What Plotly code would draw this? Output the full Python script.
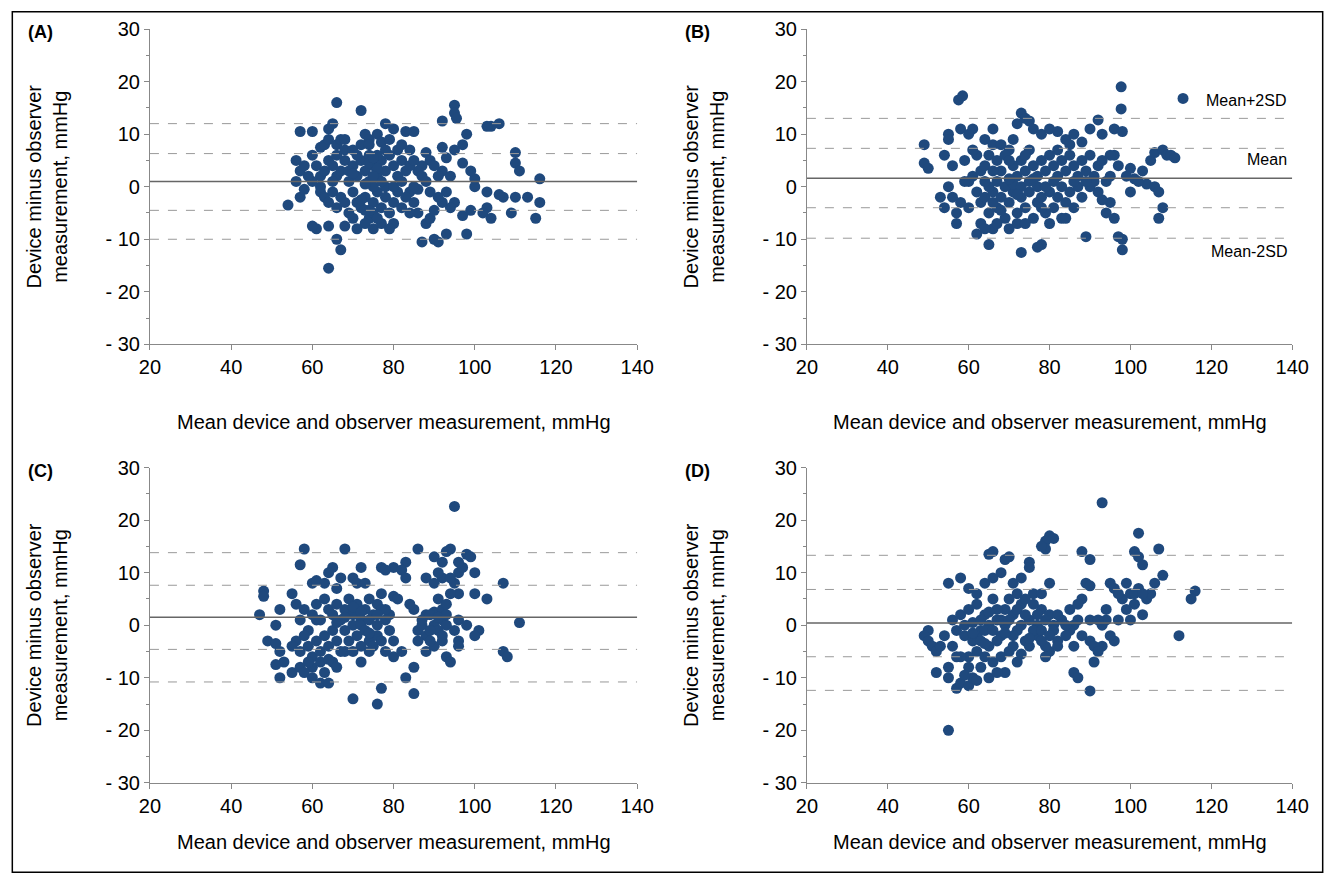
import plotly.graph_objects as go

# (mean, difference) pairs
pts_a = [
    (66, 16), (72, 14.5), (95, 15.5), (95, 14), (95.5, 13), (106, 12), (104, 11.5), (103, 11.5),
    (60, 10.5), (57, 10.5), (64, 11), (65, 12), (78, 12), (80, 11), (85, 10.5), (83, 10.5),
    (92, 12.5), (98, 10), (97, 8), (110, 6.5), (110, 4.5), (111, 3), (113, -2), (116, 1.5),
    (116, -3), (115, -6), (109, -5), (104, -6), (103, -4), (103, -1), (107, -2), (106, -1.5),
    (110, -2), (54, -3.5), (57, -2), (56, 1), (58, -0.5), (57, 3), (56, 5), (58, 4), (64, -7.5),
    (61, -8), (60, -7.5), (66, -10), (67, -12), (68, -7.5), (64, -15.5), (80, -7), (87, -10.5),
    (91, -10.5), (90, -10), (93, -9), (98, -9), (97, -5.5), (99, -4.5), (102, -5), (95, -3),
    (92, -3), (85, -3), (86, -5), (88, -7), (89, -6), (90, -4.5), (84, -1), (86, -0.5), (88, 1),
    (92, 3), (94, 2), (93, -1), (100, 0), (100, 1.5), (99, 3), (97, 4.5), (95, 7), (92, 7.5),
    (88, 6.5), (89, 5), (90, 4), (91, 2), (93, 5.5), (87, 4), (86, 3), (60, 6), (62, 7.5),
    (63, 8), (64, 9), (66, 8), (67, 9), (68, 7), (70, 7), (72, 8), (73, 10), (74, 9), (76, 10),
    (77, 8.5), (79, 9), (81, 7), (82, 8), (84, 7), (61, 4), (62, 2), (63, 3), (64, 5), (65, 4),
    (66, 2), (67, 3), (68, 5), (69, 1), (70, 4), (71, 2), (72, 5), (73, 3), (74, 6), (75, 4),
    (76, 2), (77, 5), (78, 3), (79, 6), (80, 4), (81, 2), (82, 5), (83, 3), (84, 4), (85, 5),
    (62, -1), (63, -2), (64, -3), (65, -1), (66, -4), (67, -2), (68, -3), (69, -5), (70, -1),
    (71, -3), (72, -4), (73, -2), (74, -6), (75, -3), (76, -1), (77, -4), (78, -2), (79, -5),
    (80, -3), (81, -1), (82, -4), (83, -2), (84, -5), (85, 0), (74, 1), (75, 0), (76, 6),
    (78, 0), (73, -7), (75, -8), (77, -7), (79, -8), (70, -6), (71, -8), (65, 1), (62, 0),
    (60, 1), (59, 2), (73, 0.5), (80, 0), (82, 1), (87, 2), (89, -1), (91, -2), (94, -4),
    (74, 4.5), (75, 5.5), (76, 3.5), (77, 1), (75, -5), (76, -6), (74, -4.5), (72, -2.5),
    (69, 3), (70, 2.5), (71, 6), (66, 6), (68, 9), (78, 7), (74, 8), (75, 2), (73, -4.5),
]
pts_b = [
    (57.5, 16.5), (58.5, 17.3), (97.7, 19), (97.7, 14.8), (113, 16.8), (92, 12.7), (49, 8),
    (49, 4.5), (50, 3.5), (55, 10), (55, 9), (54, 6), (56, 4), (58, 11), (61, 11), (60, 10),
    (62, 6), (64, 9), (66, 11), (66, 8), (70, 7), (71, 9), (72, 12), (73, 14), (74, 13),
    (75, 12.5), (76, 11), (78, 10), (80, 11), (82, 10.5), (84, 9), (86, 10), (88, 8.5), (90, 11),
    (93, 10), (96, 11), (98, 10.5), (96, 6), (97, 4), (100, 3.5), (101, 1.5), (104, 0.5),
    (106, 0), (107, -1), (108, -4), (107, -6), (105, 5), (106, 6.5), (108, 7), (109, 6),
    (110, 6), (111, 5.5), (100, -1), (95, -3), (93, -2.5), (97, -9.5), (98, -12), (98, -10),
    (89, -9.5), (78, -11), (77, -11.5), (73, -12.5), (65, -11), (66, -8), (62, -9), (57, -7),
    (57, -5), (58, -3), (60, -4), (54, -4), (53, -2), (55, 0), (60, 1), (61, 2), (63, 3),
    (59, 5), (64, 4), (65, 6), (67, 5), (68, 3), (69, 6), (71, 4), (72, 2), (73, 5), (74, 3),
    (75, 7), (76, 4), (77, 2), (78, 5), (79, 3), (80, 6), (81, 4), (82, 2), (83, 5), (84, 3),
    (85, 6), (86, 4), (87, 2), (88, 5), (89, 3), (90, 6), (91, 2), (92, 4), (94, 1), (95, 2),
    (62, -1), (63, -3), (64, -2), (65, -5), (66, -1), (67, -4), (68, -2), (69, -6), (70, -3),
    (71, -1), (72, -5), (73, -2), (74, -4), (75, -1), (76, -6), (77, -3), (78, -2), (79, -5),
    (80, -1), (81, -4), (82, -2), (83, -6), (84, -3), (85, -1), (86, -4), (87, 0), (88, -2),
    (90, 0), (91, 1), (92, -1), (65, 0), (67, 1), (69, 0), (71, 0.5), (73, 0), (75, 1), (77, 0),
    (79, 0), (81, 1), (83, 0), (63, -7), (64, -8), (67, -7), (70, -8), (72, -7), (74, -7),
    (80, -7), (84, -6), (94, -5), (96, -6), (56, -2), (59, 1), (61, 7), (68, 8), (85, 8),
    (99, 2), (102, 1), (103, 3), (93, 5), (95, 6), (66, 3), (68, -4.5), (70, 1.5), (72, -1.5),
    (74, 6), (76, 1.5), (78, -4), (66, -3), (64, 1), (70, 5), (82, 7), (86, 1), (89, 1),
]
pts_c = [
    (95, 22.6), (58, 14.5), (68, 14.5), (86, 14.5), (94, 14.5), (93, 14), (98, 13.5), (99, 13),
    (83, 12), (90, 13), (92, 12), (57, 11.5), (72, 11), (80, 11), (82, 10.5), (65, 11), (64, 10),
    (67, 9), (70, 9), (77, 11), (78, 10.5), (83, 9), (88, 9), (92, 9), (96, 10), (97, 11),
    (100, 10), (107, 8), (103, 5), (100, 6), (96, 6), (48, 6.5), (48, 5.5), (55, 6), (56, 4),
    (60, 8), (61, 8.5), (63, 8), (66, 7), (71, 8), (73, 8), (77, 6), (80, 5.5), (81, 5), (85, 3),
    (88, 2), (90, 2.5), (92, 1), (93, 0), (95, -1), (96, 1), (98, 0), (101, -1), (111, 0.5),
    (47, 2), (52, 3), (51, 0), (49, -3), (51, -3.5), (52, -5), (53, -7), (51, -7.5), (52, -10),
    (55, -9), (57, -8), (60, -8), (60, -10), (62, -11), (65, -7), (66, -8), (68, -5), (70, -14),
    (72, -7), (74, -3), (75, -2), (77, -12), (76, -15), (80, -6), (85, -8), (85, -13), (88, -5),
    (90, -4), (92, -3), (93, -6), (94, -7), (96, -3), (96, -4), (107, -5), (108, -6), (100, -2),
    (57, 1), (58, 3), (59, -1), (60, 2), (61, 4), (62, 1), (63, 5), (64, 3), (65, 2), (66, 4),
    (67, 1), (68, 3), (69, 5), (70, 2), (71, 4), (72, 1), (73, 3), (74, 5), (75, 2), (76, 4),
    (77, 3), (78, 1), (79, 2), (70, 0), (72, 0), (74, 1), (76, 0), (78, 3), (56, -3), (57, -5),
    (58, -2), (59, -4), (60, -6), (61, -3), (62, -5), (63, -2), (64, -4), (65, -1), (66, -3),
    (67, -5), (68, -1), (69, -3), (70, -5), (71, -2), (72, -4), (73, -1), (74, -5), (75, -4),
    (76, -2), (77, -3), (78, -5), (79, -1), (80, -3), (86, -1), (87, 0), (88, -2), (89, -3),
    (90, 0), (91, -1), (92, -2), (86, -3), (87, 1), (89, 2), (91, 5), (92, 3), (93, 4), (94, 6),
    (95, 8), (96, 12), (94, 9), (90, 8), (91, 10), (84, 4), (82, -5), (83, -10), (63, -9),
    (58, -9), (64, -11), (55, -4), (66, 0.5), (68, 1.5), (70, 3.5), (72, 2.5), (74, -1.5),
    (76, 2), (62, -7), (64, -6.5), (59, -7), (61, 1), (89, -1), (91, 1.5), (93, 2),
]
pts_d = [
    (93, 23.3), (102, 17.5), (80, 17), (81, 16.5), (79, 16), (79, 14.5), (78, 15), (66, 14),
    (65, 13.5), (70, 13), (69, 12.5), (75, 12), (75, 11), (68, 10), (88, 14), (90, 12.5),
    (101, 14), (102, 13), (107, 14.5), (103, 11.5), (108, 9.5), (106, 8), (116, 6.5), (115, 5),
    (112, -2), (60, 7), (58, 9), (55, 8), (50, -1), (49, -2), (50, -3), (51, -4), (52, -5),
    (53, -4), (55, -8), (52, -9), (55, -10), (57, -12), (58, -11), (60, -11.5), (61, -10),
    (55, -20), (65, -10), (69, -9), (72, -7), (80, -5), (79, -6), (86, -9), (87, -10),
    (90, -12.5), (91, -7), (93, -4), (96, -3), (95, -2), (97, 1), (98, 5), (99, 8), (100, 6),
    (101, 4), (103, 2), (104, 5), (102, 7), (105, 6), (95, 8), (96, 7), (89, 8), (90, 7.5),
    (88, 5), (87, 1), (86, 0), (85, -1), (88, -2), (90, -3), (91, -4), (92, -5), (93, 0), (94, 1),
    (56, 1), (57, -1), (58, 2), (59, -2), (60, 3), (61, -3), (62, 4), (63, -1), (64, 2), (65, -4),
    (66, 5), (67, 1), (68, -2), (69, 3), (70, -5), (71, 2), (72, -1), (73, 4), (74, -3), (75, 1),
    (76, 6), (77, -2), (78, 3), (79, -4), (80, 2), (81, 0), (82, -3), (83, 1), (84, -2), (59, 0),
    (61, 0.5), (63, 1), (65, 0), (67, -3), (69, 0), (71, -2), (73, 0), (75, -4), (77, 0),
    (79, 1), (81, -1), (62, -5), (64, -6), (66, -7), (68, -6), (70, 5), (72, 6), (74, 5),
    (76, 4), (78, 6), (80, 8), (82, 2), (84, 0), (86, -4), (60, -6), (63, -8), (67, -9),
    (58, -6), (54, -2), (56, -4), (57, -6), (62, -2), (64, -1), (66, -1), (68, 1), (70, 1),
    (72, 3), (74, 2), (76, -1), (78, -1), (80, -2), (82, -4), (85, 3), (87, 4), (90, 1),
    (92, 1), (94, 3), (97, 6), (99, 3), (100, 1), (101, 6), (103, 6), (64, 8), (66, 9),
    (62, 6), (71, 8), (73, 9), (71, -4), (73, -5.5), (75, -2.5), (77, 2), (78, -3), (69, -1.5),
    (67, 3), (65, 2.5), (63, -3), (61, -1.5), (60, -8), (59, -9.5), (62, -10.5), (64, -3.5),
]

# solid mean line plus dashed limits, per panel
mean_lines = [1.0, 1.6, 1.5, 0.4]
dash_lines = [[12, 6.3, -4.5, -10], [13, 7.3, -4, -9.8], [13.8, 7.6, -4.6, -10.8], [13.3, 6.8, -6, -12.4]]
panel_tags = ["(A)", "(B)", "(C)", "(D)"]
x_ticks = [20, 40, 60, 80, 100, 120, 140]
y_ticks = [30, 20, 10, 0, -10, -20, -30]
y_ticktext = ["30", "20", "10", "0", "- 10", "- 20", "- 30"]

W, H = 1341, 884


# the page comes out slightly shrunk and shifted in the photo; undo that
def fx(p):
    return ((p - 12) / 0.9866) / W


def fy(p):
    return 1 - ((p - 12) / 0.974) / H


boxes = [  # wanted plot area in screen pixels: left, right, top, bottom
    (152, 643, 30, 345), (814, 1303, 30, 345),
    (152, 643, 468, 783), (814, 1303, 468, 783),
]
xtitle_gap = [78, 78, 59, 59]
font = "Liberation Sans, Arial, sans-serif"
dot = "#1f497d"

fig = go.Figure()
layout = dict(width=W, height=H, margin=dict(l=0, r=0, t=0, b=0), showlegend=False,
              plot_bgcolor="white", paper_bgcolor="white", font=dict(family=font, color="black"))
annotations = []
shapes = [dict(type="rect", xref="paper", yref="paper", x0=0.001, y0=0.001, x1=0.999, y1=0.999,
               line=dict(color="black", width=1.5))]

for i, pts in enumerate([pts_a, pts_b, pts_c, pts_d]):
    n = "" if i == 0 else str(i + 1)
    l, r, t, b = boxes[i]
    layout["xaxis" + n] = dict(domain=[fx(l), fx(r)], range=[20, 140], tickvals=x_ticks,
                               anchor="y" + n, showline=True, linecolor="#888", showgrid=False,
                               zeroline=False, ticks="outside", ticklen=5, tickcolor="#888",
                               tickfont=dict(size=20))
    layout["yaxis" + n] = dict(domain=[fy(b), fy(t)], range=[-30, 30], tickvals=y_ticks,
                               ticktext=y_ticktext, anchor="x" + n, showline=True, linecolor="#888",
                               showgrid=False, zeroline=False, ticks="outside", ticklen=5,
                               tickcolor="#888", tickfont=dict(size=20),
                               minor=dict(dtick=5, ticks="outside", ticklen=3, tickcolor="#888"))
    xs, ys = zip(*pts)
    fig.add_trace(go.Scatter(x=xs, y=ys, mode="markers", xaxis="x" + n, yaxis="y" + n,
                             marker=dict(size=11, color=dot)))
    shapes.append(dict(type="line", xref="x" + n, yref="y" + n, x0=20, x1=140,
                       y0=mean_lines[i], y1=mean_lines[i], line=dict(color="#666", width=1.5)))
    for v in dash_lines[i]:
        shapes.append(dict(type="line", xref="x" + n, yref="y" + n, x0=20, x1=140, y0=v, y1=v,
                           line=dict(color="#999", width=1, dash="dash")))
    annotations.append(dict(text="<b>" + panel_tags[i] + "</b>", xref="paper", yref="paper",
                            x=fx(l - 125), y=fy(t + 3), xanchor="left", yanchor="middle",
                            showarrow=False, font=dict(size=18)))
    annotations.append(dict(text="Device minus observer<br>measurement, mmHg", xref="paper",
                            yref="paper", x=fx(l - 104), y=fy((t + b) / 2), textangle=-90,
                            xanchor="center", yanchor="middle", showarrow=False,
                            font=dict(size=20)))
    annotations.append(dict(text="Mean device and observer measurement, mmHg", xref="paper",
                            yref="paper", x=fx((l + r) / 2), y=fy(b + xtitle_gap[i]),
                            xanchor="center", yanchor="middle", showarrow=False,
                            font=dict(size=20)))

for txt, yy in [("Mean+2SD", 101), ("Mean", 160), ("Mean-2SD", 252)]:
    annotations.append(dict(text=txt, xref="paper", yref="paper", x=fx(1300), y=fy(yy),
                            xanchor="right", yanchor="middle", showarrow=False,
                            font=dict(size=16)))

layout["annotations"] = annotations
layout["shapes"] = shapes
fig.update_layout(**layout)
fig.write_html("out.html", config={"displayModeBar": False},
               post_script="document.body.style.margin='0';document.body.style.padding='0';"
                           "document.body.style.overflow='hidden';")
